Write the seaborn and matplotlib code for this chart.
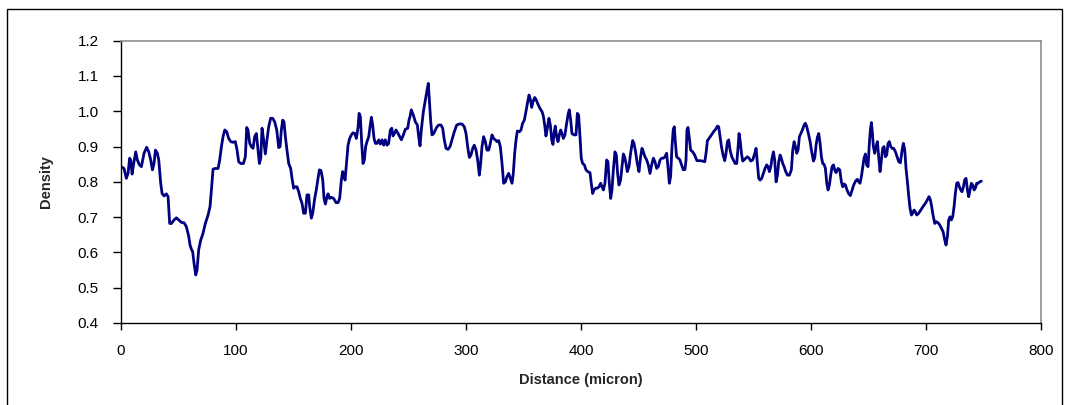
import numpy as np
import pandas as pd
import matplotlib
matplotlib.use("Agg")
import matplotlib.pyplot as plt
from matplotlib.ticker import FormatStrFormatter, MultipleLocator
from matplotlib.patches import Rectangle
import seaborn as sns

# density profile, traced left to right
distance = [
    0.0, 2.6, 4.6, 6.1, 7.5, 8.4, 9.6, 11.0, 12.8, 14.2, 16.0, 17.7, 20.0, 22.3, 24.1,
    25.8, 27.3, 28.7, 29.9, 31.6, 32.8, 34.5, 35.7, 37.4, 39.4, 40.9, 42.3, 43.8, 46.1,
    48.1, 50.2, 52.5, 54.8, 56.8, 58.9, 60.0, 61.2, 62.3, 63.5, 65.0, 66.1, 67.5, 69.3,
    71.3, 73.3, 75.7, 77.4, 78.6, 80.0, 82.0, 84.4, 85.8, 87.3, 88.7, 90.2, 91.9, 93.6,
    95.4, 97.4, 99.4, 100.9, 102.3, 104.1, 106.4, 108.1, 109.3, 110.4, 111.9, 113.3,
    114.8, 116.2, 117.7, 119.1, 120.3, 121.5,
    122.6, 124.0, 125.5, 126.9, 128.4, 130.1, 131.9, 133.6, 135.4, 137.1, 138.3, 139.4,
    140.6, 141.7, 142.9, 144.3, 145.8, 147.5, 148.7, 150.1, 151.6, 153.0, 154.5, 155.9,
    157.4, 158.8, 160.3, 161.7, 163.2, 164.0, 165.5, 166.7, 168.4, 169.8, 171.3, 172.5,
    173.9, 175.4, 176.5, 177.7, 179.1, 180.0, 181.4, 182.9, 184.9, 187.0, 188.7, 190.1,
    191.6, 192.7, 193.9, 194.8, 195.9, 197.4, 198.8, 200.3, 201.7, 203.2, 204.6, 206.1,
    207.0, 208.1, 209.3, 210.4, 211.6, 212.7, 213.9, 215.4, 216.5, 217.7, 218.8, 220.0,
    221.2, 222.6, 224.1, 225.5, 227.0, 228.4, 229.8, 231.3, 232.7, 234.2, 235.4, 236.5,
    237.7, 239.1, 240.9, 242.3, 243.8, 245.5, 247.2, 249.3, 250.4,
    251.3, 252.4, 254.2, 255.9, 257.7, 258.8, 260.0, 261.1, 262.9, 264.6, 266.1, 267.2,
    268.1, 269.3, 270.4, 271.9, 273.3, 274.8, 276.2, 278.2, 279.7, 281.1, 282.6, 284.3,
    286.1, 287.8, 289.8, 291.9, 294.2, 296.5, 298.5, 300.0, 301.4, 302.9, 304.3, 305.8,
    307.2, 308.7, 310.1, 311.6, 312.7, 313.9, 315.3, 316.8, 318.2, 319.7, 320.8, 322.6,
    324.0, 325.5, 326.9, 328.4, 329.8, 331.3, 332.7, 334.2, 335.6, 337.1, 338.5, 340.0,
    341.1, 342.3, 343.5, 344.6, 346.4, 347.8, 349.2, 350.7, 352.1, 353.6, 354.8, 355.9,
    357.1, 358.2, 359.7, 360.8, 362.3, 364.3, 366.1, 367.2, 368.4, 369.5, 370.7, 372.1,
    373.3, 374.5, 375.6,
    376.5, 377.6, 378.8, 380.0, 381.1, 382.3, 383.4, 384.6, 386.0, 387.5, 388.9, 389.8,
    391.0, 392.1, 393.9, 395.6, 396.8, 397.9, 399.1, 400.2, 401.4, 402.9, 404.3, 405.8,
    407.8, 408.9, 410.1, 411.3, 412.7, 414.2, 415.6, 417.1, 418.2, 419.4, 420.8, 422.3,
    423.4, 424.6, 425.8, 426.9, 428.1, 429.5, 430.7, 431.8, 433.0, 434.4, 435.6, 436.8,
    437.9, 439.1, 440.2, 441.7, 443.1, 444.9, 446.0, 447.2, 448.9, 450.4, 451.8, 453.0,
    454.2, 455.6, 457.1, 458.5, 460.0, 461.4, 462.9, 464.3, 465.8, 467.2, 468.7, 470.1,
    471.6, 473.0, 474.4, 475.6, 476.8, 477.9, 479.1, 480.2, 481.1, 482.0, 483.1, 484.6,
    486.0, 487.5, 488.9, 490.4, 491.3, 492.1, 493.0, 494.2, 495.3, 497.1, 498.8, 500.8,
    501.2, 503.5, 505.5, 507.6, 508.7, 509.9, 511.3, 512.8, 514.2, 515.7, 517.1, 518.6,
    519.7, 520.9, 522.1, 523.5, 525.0, 526.1, 527.3, 528.4, 529.6, 531.1, 532.5, 534.0,
    535.4, 536.6, 537.4, 538.3, 539.5, 540.6, 541.8, 543.2, 544.7, 546.1, 547.6, 549.3,
    551.1, 552.2, 553.4, 554.5, 555.7, 557.1, 558.6, 560.0, 561.5, 562.6, 563.8, 565.0,
    566.1, 567.3, 568.4, 569.6, 570.8, 571.9, 573.1, 574.2, 575.4, 576.6, 578.0, 579.5,
    581.2, 582.9, 584.1, 585.3, 586.4, 587.6, 588.7, 589.9, 591.1, 592.5, 594.0, 595.1,
    596.3, 597.7, 599.2, 600.6, 602.1, 603.2, 604.4, 605.5, 606.7, 607.9, 609.0, 610.2,
    611.3, 612.5, 613.7, 614.8, 616.0, 617.1, 618.3, 619.5, 620.6, 621.8,
    623.5, 625.0, 626.4, 627.6, 628.7, 629.9, 631.3, 632.8, 634.2, 635.7, 637.1, 638.9,
    640.3, 641.5, 642.6, 643.8, 645.0, 646.1, 647.3, 648.4, 649.6, 650.7, 651.6, 652.5,
    653.4, 654.2, 655.4, 656.5, 657.7, 658.9, 660.0, 661.2, 662.3, 663.5, 664.7, 665.8,
    667.0, 668.1, 669.3, 670.5, 671.9, 673.4, 674.8, 676.3, 677.7, 679.2, 680.3, 681.5,
    682.6, 683.8, 685.0, 686.1, 687.3, 688.4, 689.6, 690.7, 691.9, 693.6, 695.4, 697.4,
    699.4, 701.2, 702.6, 703.8, 704.9, 706.1, 707.6, 709.0, 710.5, 711.9, 713.4, 714.8,
    716.3, 717.4, 718.6, 719.7, 720.9, 722.0, 723.2, 724.4, 725.5, 726.7, 727.8, 729.0,
    730.2, 731.3, 732.5, 733.6, 734.8, 736.0, 737.1, 738.3, 739.4, 740.6, 741.8, 742.9,
    744.1, 745.3, 746.7, 748.1,
]

density = [
    0.843, 0.838, 0.810, 0.824, 0.867, 0.862, 0.822, 0.852, 0.885, 0.862, 0.848, 0.843,
    0.881, 0.898, 0.885, 0.862, 0.834, 0.852, 0.890, 0.881, 0.862, 0.796, 0.767, 0.760,
    0.766, 0.758, 0.682, 0.682, 0.692, 0.698, 0.692, 0.685, 0.684, 0.673, 0.645, 0.621,
    0.609, 0.602, 0.569, 0.536, 0.550, 0.607, 0.635, 0.654, 0.682, 0.706, 0.730, 0.777,
    0.836, 0.838, 0.838, 0.862, 0.900, 0.928, 0.947, 0.942, 0.923, 0.914, 0.912, 0.914,
    0.890, 0.857, 0.852, 0.852, 0.871, 0.954, 0.947, 0.909, 0.900, 0.895, 0.928, 0.937,
    0.890, 0.852, 0.867,
    0.952, 0.919, 0.879, 0.919, 0.956, 0.980, 0.980, 0.970, 0.947, 0.897, 0.900, 0.947,
    0.975, 0.970, 0.928, 0.890, 0.852, 0.838, 0.810, 0.782, 0.786, 0.786, 0.772, 0.753,
    0.739, 0.711, 0.711, 0.763, 0.763, 0.730, 0.697, 0.711, 0.753, 0.777, 0.810, 0.834,
    0.832, 0.805, 0.753, 0.737, 0.758, 0.766, 0.753, 0.756, 0.753, 0.741, 0.741, 0.753,
    0.805, 0.829, 0.819, 0.805, 0.848, 0.904, 0.923, 0.933, 0.939, 0.937, 0.923, 0.954,
    0.994, 0.985, 0.909, 0.852, 0.862, 0.900, 0.914, 0.928, 0.956, 0.983, 0.961, 0.923,
    0.909, 0.909, 0.919, 0.907, 0.919, 0.904, 0.919, 0.904, 0.909, 0.947, 0.952, 0.930,
    0.937, 0.947, 0.937, 0.928, 0.919, 0.933, 0.949, 0.952, 0.975,
    0.985, 1.004, 0.989, 0.970, 0.961, 0.928, 0.902, 0.947, 0.999, 1.032, 1.060, 1.079,
    1.032, 0.970, 0.933, 0.937, 0.947, 0.956, 0.961, 0.961, 0.952, 0.919, 0.895, 0.892,
    0.900, 0.919, 0.942, 0.961, 0.964, 0.964, 0.956, 0.937, 0.900, 0.869, 0.876, 0.895,
    0.904, 0.890, 0.862, 0.819, 0.852, 0.900, 0.928, 0.914, 0.890, 0.890, 0.904, 0.933,
    0.923, 0.919, 0.914, 0.917, 0.900, 0.852, 0.796, 0.800, 0.815, 0.824, 0.810, 0.796,
    0.824, 0.881, 0.919, 0.944, 0.942, 0.947, 0.966, 0.975, 0.999, 1.027, 1.046, 1.034,
    1.011, 1.027, 1.039, 1.034, 1.022, 1.008, 0.999, 0.987, 0.961, 0.930, 0.952, 0.980,
    0.961, 0.919, 0.906,
    0.937, 0.958, 0.928, 0.914, 0.933, 0.947, 0.937, 0.923, 0.933, 0.966, 0.994, 1.004,
    0.975, 0.937, 0.933, 0.933, 0.994, 0.989, 0.928, 0.867, 0.852, 0.848, 0.834, 0.829,
    0.826, 0.796, 0.767, 0.777, 0.782, 0.782, 0.786, 0.796, 0.786, 0.777, 0.796, 0.862,
    0.857, 0.796, 0.753, 0.777, 0.834, 0.885, 0.876, 0.824, 0.791, 0.805, 0.843, 0.879,
    0.871, 0.852, 0.829, 0.843, 0.881, 0.917, 0.909, 0.890, 0.852, 0.829, 0.871, 0.895,
    0.885, 0.871, 0.862, 0.848, 0.824, 0.848, 0.867, 0.857, 0.838, 0.843, 0.862, 0.867,
    0.867, 0.871, 0.881, 0.843, 0.796, 0.815, 0.900, 0.949, 0.956, 0.914, 0.871, 0.867,
    0.862, 0.848, 0.834, 0.835, 0.862, 0.947, 0.954, 0.923, 0.890, 0.885, 0.876, 0.860,
    0.860, 0.860, 0.859, 0.857, 0.881, 0.917, 0.923, 0.930, 0.937, 0.944, 0.949, 0.958,
    0.956, 0.928, 0.900, 0.876, 0.860, 0.881, 0.914, 0.919, 0.890, 0.871, 0.862, 0.852,
    0.852, 0.900, 0.937, 0.919, 0.881, 0.859, 0.862, 0.867, 0.871, 0.867, 0.859, 0.862,
    0.881, 0.895, 0.852, 0.810, 0.805, 0.810, 0.824, 0.838, 0.848, 0.843, 0.829, 0.843,
    0.867, 0.885, 0.862, 0.800, 0.819, 0.857, 0.876, 0.867, 0.852, 0.843, 0.829, 0.819,
    0.819, 0.834, 0.890, 0.914, 0.900, 0.881, 0.890, 0.928, 0.937, 0.947, 0.961, 0.966,
    0.956, 0.937, 0.914, 0.885, 0.859, 0.867, 0.904, 0.926, 0.937, 0.909, 0.871, 0.852,
    0.850, 0.838, 0.796, 0.777, 0.791, 0.819, 0.843, 0.848, 0.834, 0.826,
    0.838, 0.834, 0.800, 0.786, 0.794, 0.791, 0.777, 0.766, 0.761, 0.777, 0.791, 0.803,
    0.807, 0.800, 0.796, 0.815, 0.843, 0.867, 0.879, 0.848, 0.843, 0.909, 0.947, 0.968,
    0.937, 0.900, 0.881, 0.900, 0.914, 0.871, 0.829, 0.862, 0.895, 0.900, 0.871, 0.876,
    0.909, 0.914, 0.900, 0.895, 0.895, 0.885, 0.871, 0.857, 0.854, 0.890, 0.909, 0.890,
    0.838, 0.800, 0.758, 0.725, 0.706, 0.711, 0.720, 0.715, 0.706, 0.711, 0.720, 0.730,
    0.739, 0.749, 0.758, 0.749, 0.730, 0.706, 0.682, 0.687, 0.684, 0.678, 0.668, 0.659,
    0.635, 0.621, 0.645, 0.692, 0.701, 0.692, 0.701, 0.730, 0.767, 0.796, 0.798, 0.786,
    0.777, 0.772, 0.786, 0.805, 0.810, 0.777, 0.758, 0.777, 0.796, 0.791, 0.777, 0.782,
    0.796, 0.796, 0.800, 0.802,
]

x_ticks = [0, 100, 200, 300, 400, 500, 600, 700, 800]

df = pd.DataFrame({"distance": distance, "density": density})

sns.set_style("white")
plt.rcParams["font.family"] = ["Liberation Sans", "DejaVu Sans"]

fig = plt.figure(figsize=(10.73, 4.05), dpi=100)
ax = fig.add_axes([0.1128, 0.2025, 0.8574, 0.697])

sns.lineplot(data=df, x="distance", y="density", color="#000080",
             linewidth=2.0, ax=ax, sort=False)

ax.set_xlim(0, 800)
ax.set_ylim(0.4, 1.2)
ax.set_xticks(x_ticks)
ax.yaxis.set_major_locator(MultipleLocator(0.1))
ax.yaxis.set_major_formatter(FormatStrFormatter("%.1f"))

for side in ["left", "bottom"]:
    ax.spines[side].set_color("black")
    ax.spines[side].set_linewidth(1.0)
for side in ["top", "right"]:
    ax.spines[side].set_color("#8c8c8c")
    ax.spines[side].set_linewidth(1.2)

ax.tick_params(axis="y", direction="out", length=6, width=1, colors="black",
               labelsize=11, pad=10, left=True)
ax.tick_params(axis="x", direction="out", length=5, width=1, colors="black",
               labelsize=11, pad=10, bottom=True)

ax.set_xlabel("Distance (micron)", fontsize=10.5, fontweight="bold", labelpad=11)
ax.set_ylabel("Density", fontsize=10.5, fontweight="bold", labelpad=18)

# outer chart frame
fig.patches.append(Rectangle((7 / 1073, -0.05), 1055 / 1073, 1.05 - 9 / 405,
                             transform=fig.transFigure, fill=False,
                             edgecolor="black", linewidth=1.0))

fig.savefig("out.png", dpi=100)
